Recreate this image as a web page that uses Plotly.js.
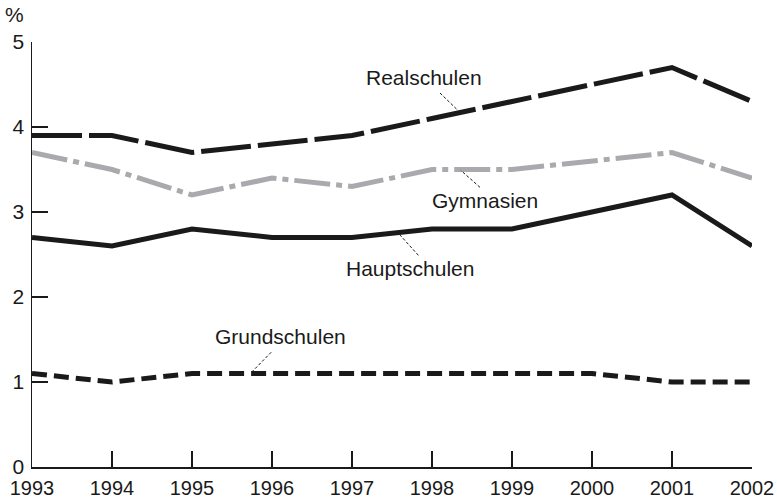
<!DOCTYPE html>
<html>
<head>
<meta charset="utf-8">
<script src="https://cdn.plot.ly/plotly-3.0.1.min.js"></script>
<style>html,body{margin:0;padding:0;background:#fff;}#chart{width:777px;height:498px;}</style>
</head>
<body>
<div id="chart"></div>
<script>
const years = [1993,1994,1995,1996,1997,1998,1999,2000,2001,2002];
const realschulen  = [3.9,3.9,3.7,3.8,3.9,4.1,4.3,4.5,4.7,4.3];
const gymnasien    = [3.7,3.5,3.2,3.4,3.3,3.5,3.5,3.6,3.7,3.4];
const hauptschulen = [2.7,2.6,2.8,2.7,2.7,2.8,2.8,3.0,3.2,2.6];
const grundschulen = [1.1,1.0,1.1,1.1,1.1,1.1,1.1,1.1,1.0,1.0];
const yTicks = [0,1,2,3,4,5];
const xTicks = years;

const FONT = 'Liberation Sans, Arial, sans-serif';
const FS = 21;
const TFS = 20;
const traces = [
  {x: years, y: realschulen, mode:'lines', name:'Realschulen', line:{color:'#1a1a1a', width:5, dash:'50px,7px'}},
  {x: years, y: gymnasien, mode:'lines', name:'Gymnasien', line:{color:'#a9aaad', width:5, dash:'36px,6px,6px,6px'}},
  {x: years, y: hauptschulen, mode:'lines', name:'Hauptschulen', line:{color:'#1a1a1a', width:5}},
  {x: years, y: grundschulen, mode:'lines', name:'Grundschulen', line:{color:'#1a1a1a', width:5, dash:'15px,7px'}}
];

const labels = [
  {text:'Realschulen', x:1997.9, y:4.58, lx0:1998.1, ly0:4.40, lx1:1998.33, ly1:4.19},
  {text:'Gymnasien', x:1998.66, y:3.14, lx0:1998.6, ly0:3.29, lx1:1998.36, ly1:3.49},
  {text:'Hauptschulen', x:1997.73, y:2.34, lx0:1997.83, ly0:2.49, lx1:1997.58, ly1:2.75},
  {text:'Grundschulen', x:1996.1, y:1.54, lx0:1995.99, ly0:1.35, lx1:1995.75, ly1:1.12}
];

const annotations = labels.map(l => ({
  text:l.text, x:l.x, y:l.y, xref:'x', yref:'y', showarrow:false,
  xanchor:'center', yanchor:'middle',
  font:{family:FONT, size:FS, color:'#1a1a1a'}
}));
annotations.push({text:'%', xref:'paper', yref:'paper', x:-0.025, y:1.064, showarrow:false,
  xanchor:'center', yanchor:'middle',
  font:{family:FONT, size:FS, color:'#1a1a1a'}});

const shapes = labels.map(l => ({
  type:'line', xref:'x', yref:'y', x0:l.lx0, y0:l.ly0, x1:l.lx1, y1:l.ly1,
  line:{color:'#1a1a1a', width:1, dash:'3px,2px'}
}));

const layout = {
  width:777, height:498,
  margin:{l:32, r:25, t:42, b:31},
  paper_bgcolor:'#fff', plot_bgcolor:'#fff',
  showlegend:false,
  font:{family:FONT, size:FS, color:'#1a1a1a'},
  xaxis:{range:[1993,2002], tickvals:xTicks, ticktext:xTicks.map(String),
    showgrid:false, zeroline:false, showline:true, linecolor:'#1a1a1a', linewidth:1.5,
    ticks:'inside', ticklen:16, tickcolor:'#1a1a1a', tickwidth:1.5, fixedrange:true,
    tickfont:{family:FONT, size:TFS, color:'#1a1a1a'}, ticklabelstandoff:2},
  yaxis:{range:[0,5], tickvals:yTicks, showgrid:false, zeroline:false, showline:true,
    linecolor:'#1a1a1a', linewidth:1.5, ticks:'inside', ticklen:16, tickcolor:'#1a1a1a', tickwidth:1.5,
    tickfont:{family:FONT, size:FS, color:'#1a1a1a'}, ticklabelstandoff:2},
  annotations, shapes
};
Plotly.newPlot('chart', traces, layout, {displayModeBar:false, staticPlot:true});
</script>
</body>
</html>
